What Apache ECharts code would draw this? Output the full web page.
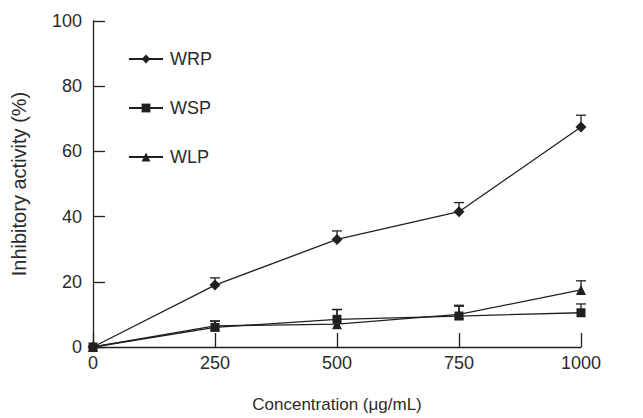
<!DOCTYPE html>
<html>
<head>
<meta charset="utf-8">
<script src="https://cdn.jsdelivr.net/npm/echarts@6/dist/echarts.min.js"></script>
<style>
  html, body { margin: 0; padding: 0; background: #fff; }
  #chart { width: 643px; height: 418px; }
</style>
</head>
<body>
<div id="chart"></div>
<script>
const concentrations = [0, 250, 500, 750, 1000];
const wrpValues = [0, 19, 33, 41.5, 67.5];
const wrpErrors = [0, 2.2, 2.6, 2.8, 3.6];
const wspValues = [0, 6, 8.5, 9.5, 10.5];
const wspErrors = [0, 2, 3, 3, 2.7];
const wlpValues = [0, 6.5, 7, 10, 17.5];
const wlpErrors = [0, 1.4, 4.5, 2.8, 2.8];

const ink = "#231f20";

function pairs(values) {
    return concentrations.map((c, i) => [c, values[i]]);
}

function errorData(values, errors) {
    return concentrations.map((c, i) => [c, values[i], values[i] + errors[i]]);
}

// error bars: only the upper half, with a cap
function errorSeries(values, errors) {
    return {
        type: "custom",
        silent: true,
        z: 1,
        data: errorData(values, errors),
        renderItem: (params, api) => {
            if (api.value(2) === api.value(1)) return null;
            const base = api.coord([api.value(0), api.value(1)]);
            const top = api.coord([api.value(0), api.value(2)]);
            const half = 5;
            return {
                type: "group",
                children: [
                    { type: "line", shape: { x1: base[0], y1: base[1], x2: top[0], y2: top[1] }, style: { stroke: ink, lineWidth: 1.3 } },
                    { type: "line", shape: { x1: top[0] - half, y1: top[1], x2: top[0] + half, y2: top[1] }, style: { stroke: ink, lineWidth: 1.3 } }
                ]
            };
        }
    };
}

function lineSeries(name, values, symbol, size) {
    return {
        name: name,
        type: "line",
        z: 3,
        data: pairs(values),
        symbol: symbol,
        symbolSize: size,
        lineStyle: { color: ink, width: 1.3 },
        itemStyle: { color: ink },
        animation: false
    };
}

const chart = echarts.init(document.getElementById("chart"), null, { renderer: "svg" });
chart.setOption({
    backgroundColor: "#fff",
    animation: false,
    textStyle: { fontFamily: "Liberation Sans, Arial, sans-serif" },
    grid: { left: 93, right: 62, top: 21, bottom: 66 },
    legend: {
        orient: "vertical",
        left: 123,
        top: 45,
        itemGap: 31,
        itemWidth: 34,
        itemHeight: 11,
        textStyle: { fontSize: 18, color: "#2b2b2b", padding: [0, 0, 0, 2] },
        data: ["WRP", "WSP", "WLP"]
    },
    xAxis: {
        type: "value",
        min: 0,
        max: 1000,
        interval: 250,
        name: "Concentration (μg/mL)",
        nameLocation: "middle",
        nameGap: 49,
        nameTextStyle: { fontSize: 17, color: "#2b2b2b" },
        axisLine: { lineStyle: { color: ink, width: 1.3 } },
        axisTick: { inside: true, length: 14, lineStyle: { color: ink, width: 1.3 } },
        axisLabel: { fontSize: 18, color: "#2b2b2b", margin: 7, formatter: v => String(v) },
        splitLine: { show: false }
    },
    yAxis: {
        type: "value",
        min: 0,
        max: 100,
        interval: 20,
        name: "Inhibitory activity (%)",
        nameLocation: "middle",
        nameGap: 64,
        nameTextStyle: { fontSize: 20, color: "#2b2b2b" },
        axisLine: { show: true, lineStyle: { color: ink, width: 1.3 } },
        axisTick: { show: true, inside: true, length: 12, lineStyle: { color: ink, width: 1.3 } },
        axisLabel: { fontSize: 18, color: "#2b2b2b", margin: 11 },
        splitLine: { show: false }
    },
    series: [
        errorSeries(wrpValues, wrpErrors),
        errorSeries(wspValues, wspErrors),
        errorSeries(wlpValues, wlpErrors),
        lineSeries("WRP", wrpValues, "diamond", 11),
        lineSeries("WSP", wspValues, "rect", 9),
        lineSeries("WLP", wlpValues, "triangle", 10)
    ]
});
</script>
</body>
</html>
